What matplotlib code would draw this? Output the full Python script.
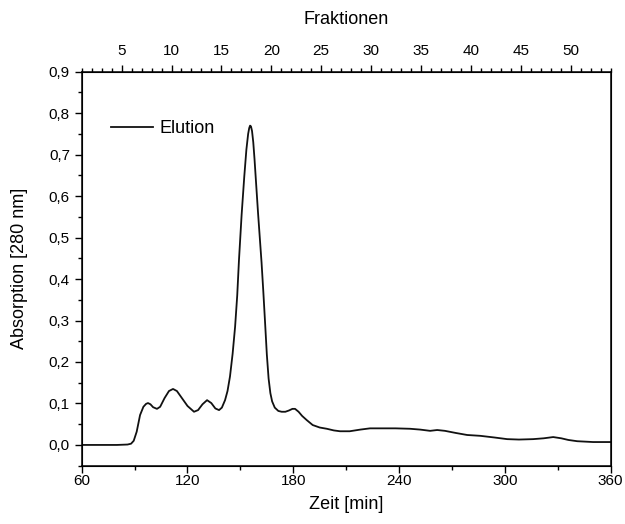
import numpy as np
import matplotlib.pyplot as plt
from matplotlib.ticker import MultipleLocator, FuncFormatter

plt.rcParams['font.family'] = ['Liberation Sans', 'DejaVu Sans']

# Zeit [min] und Absorption bei 280 nm
zeit = [60, 70, 80, 86, 88, 89.5, 91.2, 93.1, 95, 96.5, 97.6, 99, 100.5, 102.7,
        104.5, 107, 109.5, 111.8, 114, 117, 120, 123.7, 126, 128.5, 131.1, 133.5,
        135.8, 137.9, 139.5, 141.3, 142.7, 144.1, 145.6, 147, 148.2, 149.2, 150.7,
        152.2, 153.4, 154.4, 155, 155.5, 156, 156.6, 157.3, 158, 159, 160, 161,
        162, 163, 164, 165, 166, 167, 168, 169.5, 171.5, 173.4, 175.5, 177.5,
        179.5, 181, 183, 185, 187.6, 191, 195, 199, 203, 206.5, 212, 218, 223.5,
        230, 238, 246.2, 252, 257.6, 261.6, 266, 272, 278.6, 286, 294, 301.3,
        308, 316, 322, 327.4, 332, 336, 341, 350, 360]
absorption = [0.0, 0.0, 0.0, 0.001, 0.003, 0.010, 0.032, 0.072, 0.092, 0.099, 0.101,
              0.098, 0.091, 0.087, 0.092, 0.113, 0.130, 0.135, 0.130, 0.112, 0.094,
              0.080, 0.084, 0.098, 0.108, 0.101, 0.088, 0.084, 0.090, 0.108, 0.130,
              0.165, 0.220, 0.285, 0.360, 0.446, 0.555, 0.647, 0.712, 0.750, 0.764,
              0.770, 0.768, 0.757, 0.730, 0.690, 0.625, 0.560, 0.500, 0.440, 0.370,
              0.295, 0.218, 0.160, 0.125, 0.105, 0.090, 0.082, 0.080, 0.080, 0.083,
              0.087, 0.087, 0.080, 0.070, 0.060, 0.048, 0.042, 0.039, 0.035, 0.033,
              0.033, 0.037, 0.040, 0.040, 0.040, 0.039, 0.037, 0.034, 0.036, 0.034,
              0.029, 0.024, 0.022, 0.018, 0.014, 0.013, 0.014, 0.016, 0.019, 0.016,
              0.012, 0.009, 0.007, 0.007]

fraktion_ticks = [5, 10, 15, 20, 25, 30, 35, 40, 45, 50]

komma = FuncFormatter(lambda v, p: f'{v:.1f}'.replace('.', ','))

fig = plt.figure(figsize=(6.25, 5.24), dpi=100)
ax = fig.add_axes([0.1307, 0.1113, 0.8464, 0.7519])

ax.plot(zeit, absorption, color='#111111', lw=1.3, label='Elution')

ax.set_xlim(60, 360)
ax.set_ylim(-0.05, 0.9)
ax.xaxis.set_major_locator(MultipleLocator(60))
ax.xaxis.set_minor_locator(MultipleLocator(30))
ax.yaxis.set_major_locator(MultipleLocator(0.1))
ax.yaxis.set_minor_locator(MultipleLocator(0.05))
ax.yaxis.set_major_formatter(komma)
ax.tick_params(which='both', direction='out', labelsize=11, right=False, top=False)
ax.tick_params(which='major', length=5, width=1)
ax.tick_params(which='minor', length=3, width=1)
ax.tick_params(axis='x', pad=1)
ax.set_xlabel('Zeit [min]', fontsize=13, labelpad=6)
ax.set_ylabel('Absorption [280 nm]', fontsize=13, labelpad=15)
for s in ax.spines.values():
    s.set_linewidth(1.1)

ax2 = ax.twiny()
ax2.set_xlim(1, 54)
ax2.set_xticks(fraktion_ticks)
ax2.xaxis.set_minor_locator(MultipleLocator(1))
ax2.tick_params(which='both', direction='out', labelsize=11, pad=5)
ax2.tick_params(which='major', length=5, width=1)
ax2.tick_params(which='minor', length=3, width=1)
ax2.set_xlabel('Fraktionen', fontsize=13, labelpad=14)

ax.legend(loc='upper left', bbox_to_anchor=(0.025, 0.918), frameon=False,
          fontsize=13, handlelength=2.3, handletextpad=0.4)

plt.savefig('out.png', dpi=100)
